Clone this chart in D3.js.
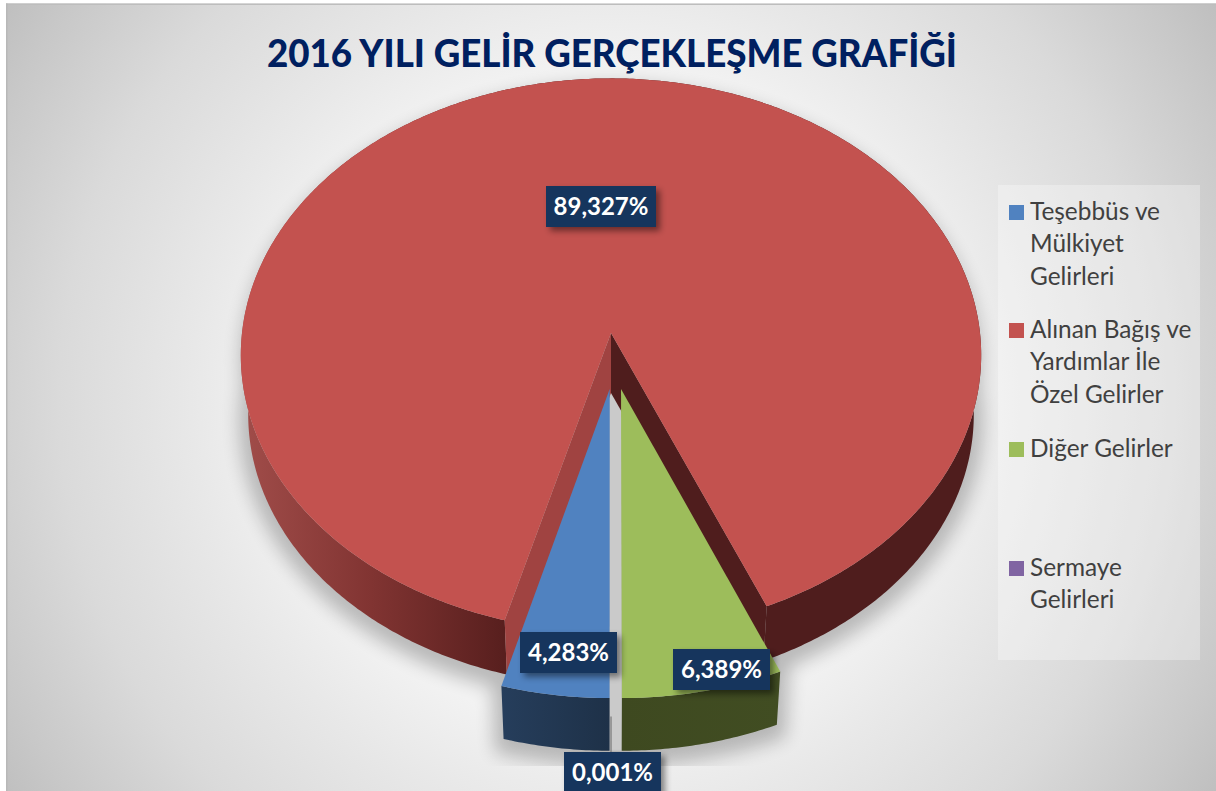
<!DOCTYPE html>
<html><head><meta charset="utf-8">
<script src="https://cdn.jsdelivr.net/npm/d3@7"></script>
<style>html,body{margin:0;padding:0;background:#fff;overflow:hidden}svg{display:block}text{font-family:Lato,"Open Sans",sans-serif}</style>
</head><body><svg id="c" width="1216" height="791"></svg>
<script>
const titleText = "2016 YILI GELİR GERÇEKLEŞME GRAFİĞİ";
const categories = ["Teşebbüs ve Mülkiyet Gelirleri","Alınan Bağış ve Yardımlar İle Özel Gelirler","Diğer Gelirler","Sermaye Gelirleri"];
const legendLines = [["Teşebbüs ve","Mülkiyet","Gelirleri"],["Alınan Bağış ve","Yardımlar İle","Özel Gelirler"],["Diğer Gelirler"],["Sermaye","Gelirleri"]];
const values = [4.283, 89.327, 6.389, 0.001];
const valueLabels = ["4,283%","89,327%","6,389%","0,001%"];
const topColors = ["#5082c0","#c3524f","#9dbd5b","#8064a2"];

const W=1216,H=791,CX=611,CY=333,R=369,RY=275,K=0.08,SHRINK=0.98,DROP=60;
const sx=d3.scaleLinear().domain([-1,1]).range([-R,R]);
const sy=d3.scaleLinear().domain([-1,1]).range([-RY,RY]);
function proj(u,v,low){
  const s=1/(1-K*v), f=low?SHRINK:1;
  return [CX+sx(u)*s*f, CY+sy(v)*s*f+(low?DROP:0)];
}
const explode=[[-0.0035,0.2],[0,0],[0.0267,0.2],[0,0.2]];
const pie=d3.pie().sort(null).startAngle(Math.PI).endAngle(3*Math.PI);
const arcs=pie(values);
const line=d3.line();
function rim(d,i,low){
  const n=Math.max(2,Math.ceil((d.endAngle-d.startAngle)/0.01));
  const [ox,oy]=explode[i];
  return d3.range(n+1).map(k=>{
    const a=d.startAngle+(d.endAngle-d.startAngle)*k/n;
    return proj(Math.sin(a)+ox,-Math.cos(a)+oy,low);
  });
}
const apex=(i,low)=>proj(explode[i][0],explode[i][1],low);
const topPts=(d,i)=>[apex(i,false),...rim(d,i,false)];
const wallPts=(d,i)=>[...rim(d,i,false),...rim(d,i,true).reverse()];

const svg=d3.select("#c");
const defs=svg.append("defs");
const bg=defs.append("radialGradient").attr("id","bg").attr("gradientUnits","userSpaceOnUse")
  .attr("cx",610).attr("cy",400).attr("r",735);
[[0,"#f2f2f2"],[.45,"#f2f2f2"],[.57,"#e8e8e8"],[.75,"#dadada"],[.91,"#c8c8c8"],[1,"#bdbdbd"]]
  .forEach(s=>bg.append("stop").attr("offset",s[0]).attr("stop-color",s[1]));
function hgrad(id,x1,x2,stops){
  const g=defs.append("linearGradient").attr("id",id).attr("gradientUnits","userSpaceOnUse")
   .attr("x1",x1).attr("x2",x2).attr("y1",0).attr("y2",0);
  stops.forEach(s=>g.append("stop").attr("offset",s[0]).attr("stop-color",s[1]));
}
hgrad("wallRed",245,985,[[0,"#a04c49"],[.17,"#813432"],[.35,"#581f1e"],[.5,"#4f1d1d"],[1,"#4f1d1d"]]);
hgrad("wallBlue",499,609,[[0,"#263e5c"],[1,"#1e3148"]]);
hgrad("wallGreen",622,782,[[0,"#3e4920"],[1,"#414d22"]]);
const wallFill=["url(#wallBlue)","url(#wallRed)","url(#wallGreen)","#8c8c8c"];
defs.append("filter").attr("id","blur").attr("x","-10%").attr("y","-10%").attr("width","120%").attr("height","120%")
  .append("feGaussianBlur").attr("stdDeviation",9);
const ds=defs.append("filter").attr("id","ds").attr("x","-20%").attr("y","-20%").attr("width","150%").attr("height","160%");
ds.append("feDropShadow").attr("dx",4).attr("dy",4).attr("stdDeviation",3).attr("flood-color","#000").attr("flood-opacity",.45);
defs.append("clipPath").attr("id","shClip").append("rect").attr("x",0).attr("y",0).attr("width",W).attr("height",766);

svg.append("rect").attr("x",6).attr("y",3.5).attr("width",W-6).attr("height",H-3.5).attr("fill","url(#bg)");
svg.append("rect").attr("x",6).attr("y",3.5).attr("width",W-6).attr("height",1.5).attr("fill","#bdbdbd");
svg.append("rect").attr("x",6).attr("y",3.5).attr("width",1.5).attr("height",H-3.5).attr("fill","#b8b8b8");

// cast shadow
const shOuter=svg.append("g").attr("clip-path","url(#shClip)");
const sh=shOuter.append("g").attr("filter","url(#blur)").attr("opacity",.23).attr("transform","translate(0,6)");
const full={startAngle:0,endAngle:2*Math.PI};
sh.append("path").attr("d",line(rim(full,1,true))+"Z").attr("fill","#000").attr("stroke","#000").attr("stroke-width",18);
arcs.forEach((d,i)=>{ if(i!==1) sh.append("path").attr("d",line(wallPts(d,i))+"Z").attr("fill","#000").attr("stroke","#000").attr("stroke-width",18);});
sh.append("path").attr("d",line(rim(full,1,false))+"Z").attr("fill","#000");

// gap seen between the exploded slices
const bl=rim(arcs[0],0,true), gl=rim(arcs[2],2,true);
svg.append("path").attr("d",line([apex(0,false),apex(2,false),gl[gl.length-1],bl[0]])+"Z").attr("fill","#cacaca");

// red slice
const red=arcs[1];
svg.append("path").attr("d",line(wallPts(red,1))+"Z").attr("fill",wallFill[1]);
const rs=rim(red,1,false), rl=rim(red,1,true);
svg.append("path").attr("d",line([apex(1,false),rs[0],rl[0],apex(1,true)])+"Z").attr("fill","#a04341");
svg.append("path").attr("d",line([apex(1,false),rs[rs.length-1],rl[rl.length-1],apex(1,true)])+"Z").attr("fill","#4f1d1d");
svg.append("path").attr("d",line(topPts(red,1))+"Z").attr("fill",topColors[1]);

// thin sliver of the smallest slice
const pd=arcs[3], pt=rim(pd,3,false)[0], pb=rim(pd,3,true)[0];
svg.append("line").attr("x1",pb[0]).attr("x2",pb[0]).attr("y1",pt[1]+(pb[1]-pt[1])*.35).attr("y2",pb[1]+4)
  .attr("stroke",wallFill[3]).attr("stroke-width",1.6);

[0,2].forEach(i=>{
  const d=arcs[i];
  svg.append("path").attr("d",line(wallPts(d,i))+"Z").attr("fill",wallFill[i]);
  svg.append("path").attr("d",line(topPts(d,i))+"Z").attr("fill",topColors[i]);
});

// title
svg.append("text").attr("x",612).attr("y",67).attr("text-anchor","middle")
  .attr("font-size",37).attr("font-weight",900).attr("fill","#002060").attr("textLength",690).attr("lengthAdjust","spacingAndGlyphs").text(titleText);

// data labels
const labelBoxes=[[520,632,97,41],[546,186,110,41],[673,649,97,41],[564,752,97,41]];
const lg=svg.append("g");
valueLabels.forEach((t,i)=>{
  const b=labelBoxes[i];
  lg.append("rect").attr("x",b[0]).attr("y",b[1]).attr("width",b[2]).attr("height",b[3])
    .attr("fill","#17365d").attr("filter","url(#ds)");
  lg.append("text").attr("x",b[0]+b[2]/2).attr("y",b[1]+29).attr("text-anchor","middle")
    .attr("font-size",24).attr("font-weight",700).attr("fill","#fff").text(t);
});

// legend
svg.append("rect").attr("x",998).attr("y",185).attr("width",202).attr("height",475).attr("fill","#fff").attr("opacity",.3);
const legY=[205,323,442,561];
const leg=svg.append("g").selectAll("g").data(categories).join("g");
leg.append("rect").attr("x",1009).attr("y",(d,i)=>legY[i]).attr("width",15).attr("height",15).attr("fill",(d,i)=>topColors[i]);
leg.each(function(d,i){
  legendLines[i].forEach((l,j)=>{
    d3.select(this).append("text").attr("x",1030).attr("y",legY[i]+15+j*32.3)
      .attr("font-size",24.4).attr("fill","#404040").text(l);
  });
});
</script></body></html>
